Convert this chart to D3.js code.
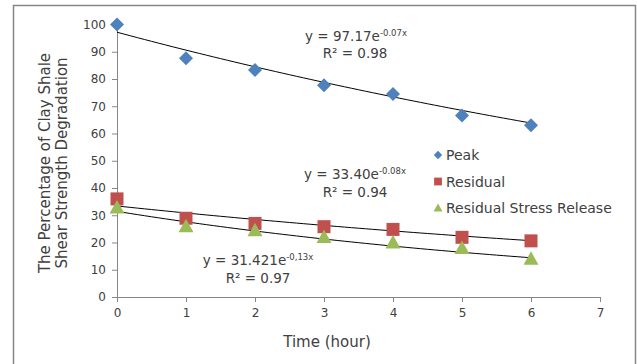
<!DOCTYPE html>
<html><head><meta charset="utf-8">
<script src="https://cdn.jsdelivr.net/npm/d3@7"></script>
<style>
body{margin:0;background:#fff;}
text{font-family:"DejaVu Sans",sans-serif;fill:#404040;}
</style></head>
<body><svg id="c" width="637" height="364"></svg>
<script>
const hours = [0,1,2,3,4,5,6];
const peak = [100,87.6,83.3,77.7,74.5,66.6,63];
const residual = [36,28.9,27,25.8,24.8,21.9,20.6];
const stressRelease = [32.8,26,24.5,22,20,18,14];
const seriesNames = ["Peak","Residual","Residual Stress Release"];
const fitA = [97.17,33.40,31.421];
const fitB = [-0.07,-0.08,-0.13];
const xTicks = [0,1,2,3,4,5,6,7];
const yTicks = [0,10,20,30,40,50,60,70,80,90,100];
const colors = ["#4F81BD","#C0504D","#9BBB59"];

const svg = d3.select("#c");
svg.append("rect").attr("x",13.5).attr("y",5.5).attr("width",622).attr("height",370)
  .attr("fill","none").attr("stroke","#868686").attr("stroke-width",1.5);

const x = d3.scaleLinear().domain([0,7]).range([117,600]);
const y = d3.scaleLinear().domain([0,100]).range([297,24.5]);

const xAxis = svg.append("g").attr("transform","translate(0,297)")
  .call(d3.axisBottom(x).tickValues(xTicks).tickFormat(d3.format("d")).tickSize(5).tickPadding(6));
const yAxis = svg.append("g").attr("transform","translate(117,0)")
  .call(d3.axisLeft(y).tickValues(yTicks).tickFormat(d3.format("d")).tickSize(5).tickPadding(6));
[xAxis,yAxis].forEach(a=>{
  a.select(".domain").attr("stroke","#868686");
  a.selectAll(".tick line").attr("stroke","#868686");
  a.selectAll(".tick text").attr("font-size","12px").attr("fill","#404040")
    .attr("font-family","DejaVu Sans");
});

// trendlines
const line = d3.line().x(d=>x(d[0])).y(d=>y(d[1]));
fitA.forEach((a,i)=>{
  const pts = d3.range(0,6.001,0.1).map(t=>[t,a*Math.exp(fitB[i]*t)]);
  svg.append("path").attr("d",line(pts)).attr("fill","none").attr("stroke","#000").attr("stroke-width",1);
});

const data = [peak,residual,stressRelease];
function marker(g,i,cx,cy,scale){
  if(i===0){
    const s=7*scale;
    g.append("path").attr("d",`M${cx},${cy-s}L${cx+s},${cy}L${cx},${cy+s}L${cx-s},${cy}Z`).attr("fill",colors[0]);
  } else if(i===1){
    const s=6.5*scale;
    g.append("rect").attr("x",cx-s).attr("y",cy-s).attr("width",2*s).attr("height",2*s).attr("fill",colors[1]);
  } else {
    const s=7.5*scale;
    g.append("path").attr("d",`M${cx},${cy-s}L${cx+s},${cy+s*0.8}L${cx-s},${cy+s*0.8}Z`).attr("fill",colors[2]);
  }
}
const mg = svg.append("g");
data.forEach((arr,i)=>{
  arr.forEach((v,j)=>marker(mg,i,x(hours[j]),y(v),1));
});

// equations
function eq(cx, y1, a, b){
  const t = svg.append("text").attr("x",cx).attr("y",y1).attr("font-size","13.5px").attr("text-anchor","middle");
  t.append("tspan").text(`y = ${a}e`);
  t.append("tspan").attr("font-size","8.5px").attr("dy",-5).text(b);
}
function r2(cx,y1,v){
  svg.append("text").attr("x",cx).attr("y",y1).attr("font-size","13.5px").attr("text-anchor","middle").text(`R² = ${v}`);
}
eq(356,41,"97.17","-0.07x"); r2(355,58,"0.98");
eq(355,179,"33.40","-0.08x"); r2(355,197,"0.94");
eq(258,265,"31.421","-0,13x"); r2(258,283,"0.97");

// legend
const lg = svg.append("g");
seriesNames.forEach((n,i)=>{
  const ly = 155 + i*26.5;
  marker(lg,i,438,ly,0.6);
  lg.append("text").attr("x",446).attr("y",ly+5).attr("font-size","14px").text(n);
});

// axis titles
svg.append("text").attr("x",327).attr("y",347).attr("font-size","15px").attr("text-anchor","middle").text("Time (hour)");
const yt = svg.append("text").attr("transform","translate(50,163) rotate(-90)").attr("font-size","15px").attr("text-anchor","middle");
yt.append("tspan").attr("x",0).attr("y",0).text("The Percentage of Clay Shale");
yt.append("tspan").attr("x",0).attr("y",17).text("Shear Strength Degradation");
</script></body></html>
